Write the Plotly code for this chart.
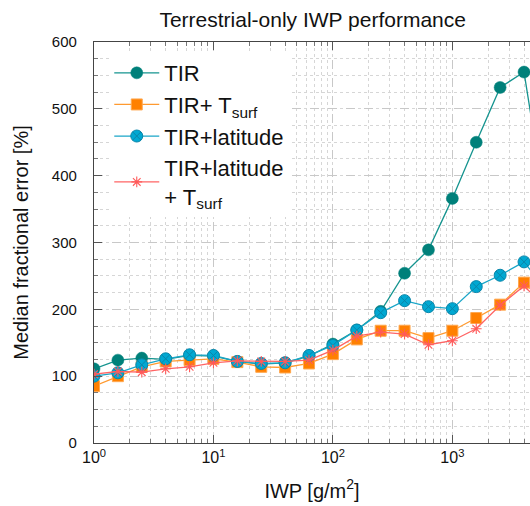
import plotly.graph_objects as go

# IWP bin centres [g/m^2]
iwp = [1, 1.585, 2.512, 3.981, 6.31, 10, 15.85, 25.12, 39.81, 63.1,
       100, 158.5, 251.2, 398.1, 631, 1000, 1585, 2512, 3981, 6310]

# Median fractional error [%]
tir = [111, 124, 127, 125, 131, 130, 122, 118, 120, 130,
       148, 169, 197, 254, 289, 366, 450, 532, 555, 330]
tir_tsurf = [85, 100, 114, 122, 124, 126, 121, 114, 113, 119,
             133, 155, 168, 168, 157, 168, 187, 207, 240, 205]
tir_lat = [100, 105, 117, 126, 132, 131, 122, 119, 120, 131,
           146, 169, 195, 213, 204, 201, 234, 251, 271, 225]
tir_lat_tsurf = [103, 107, 106, 111, 114, 120, 123, 122, 122, 124,
                 139, 160, 166, 163, 147, 153, 171, 206, 235, 200]

series_names = ["TIR", "TIR+ T<sub>surf</sub>", "TIR+latitude",
                "TIR+latitude<br>+ T<sub>surf</sub>"]

x_tickvals = [1, 10, 100, 1000]
x_ticktext = ["10<sup>0</sup>", "10<sup>1</sup>", "10<sup>2</sup>", "10<sup>3</sup>"]
y_tickvals = [0, 100, 200, 300, 400, 500, 600]

FONT = "Liberation Sans, Arial, Helvetica, sans-serif"

fig = go.Figure()

fig.add_trace(go.Scatter(
    x=iwp, y=tir, name=series_names[0], mode="lines+markers",
    line=dict(color="#15948f", width=1.3),
    marker=dict(symbol="circle", size=12, color="#00807a",
                line=dict(color="#00807a", width=0.5)),
))
fig.add_trace(go.Scatter(
    x=iwp, y=tir_tsurf, name=series_names[1], mode="lines+markers",
    line=dict(color="#ff9a30", width=1.3),
    marker=dict(symbol="square", size=11, color="#ff8000",
                line=dict(color="#ffa850", width=1)),
))
fig.add_trace(go.Scatter(
    x=iwp, y=tir_lat, name=series_names[2], mode="lines+markers",
    line=dict(color="#1aa6c8", width=1.3),
    marker=dict(symbol="circle-x", size=12, color="#00a8d2",
                line=dict(color="#0a86aa", width=1)),
))
fig.add_trace(go.Scatter(
    x=iwp, y=tir_lat_tsurf, name=series_names[3], mode="lines+markers",
    line=dict(color="#ff6464", width=1.3),
    marker=dict(symbol="asterisk-open", size=9, color="#ff5a5a",
                line=dict(color="#ff5a5a", width=1.1)),
))

fig.update_layout(
    width=530, height=506,
    margin=dict(l=94, r=0, t=42, b=63),
    paper_bgcolor="white", plot_bgcolor="white",
    font=dict(family=FONT, color="#111111", size=14),
    title=dict(text="Terrestrial-only IWP performance", x=0.59, xanchor="center",
               y=0.975, yanchor="top", font=dict(size=21, family=FONT)),
    showlegend=True,
    legend=dict(x=0.035, y=0.975, xanchor="left", yanchor="top",
                bgcolor="white", borderwidth=0, itemwidth=45,
                font=dict(size=22, family=FONT), tracegroupgap=0),
)

fig.update_xaxes(
    type="log", range=[0, 3.65],
    tickvals=x_tickvals, ticktext=x_ticktext,
    ticks="inside", ticklen=8, tickcolor="#555555", tickwidth=1,
    showline=True, linecolor="#444444", linewidth=1.3, mirror="allticks",
    showgrid=True, gridcolor="#c8c8c8", gridwidth=1, griddash="dash",
    minor=dict(dtick="D1", ticks="inside", ticklen=4, tickcolor="#777777",
               showgrid=True, gridcolor="#d6d6d6", griddash="dot"),
    tickfont=dict(size=16, family=FONT),
    title=dict(text="IWP [g/m<sup>2</sup>]", font=dict(size=20, family=FONT), standoff=18),
    zeroline=False, automargin=False,
)
fig.update_yaxes(
    range=[0, 600], tickvals=y_tickvals,
    ticks="inside", ticklen=8, tickcolor="#555555", tickwidth=1,
    showline=True, linecolor="#444444", linewidth=1.3, mirror=False,
    showgrid=True, gridcolor="#c8c8c8", gridwidth=1, griddash="dash",
    minor=dict(dtick=25, ticks="inside", ticklen=4, tickcolor="#777777",
               showgrid=True, gridcolor="#d6d6d6", griddash="dot"),
    tickfont=dict(size=15, family=FONT), ticklabelstandoff=13,
    title=dict(text="Median fractional error [%]", font=dict(size=20, family=FONT), standoff=17),
    zeroline=False, automargin=False,
)

fig.write_html(
    "out.html",
    config={"displayModeBar": False},
    post_script="document.body.style.margin='0px';document.body.style.overflow='hidden';",
)
